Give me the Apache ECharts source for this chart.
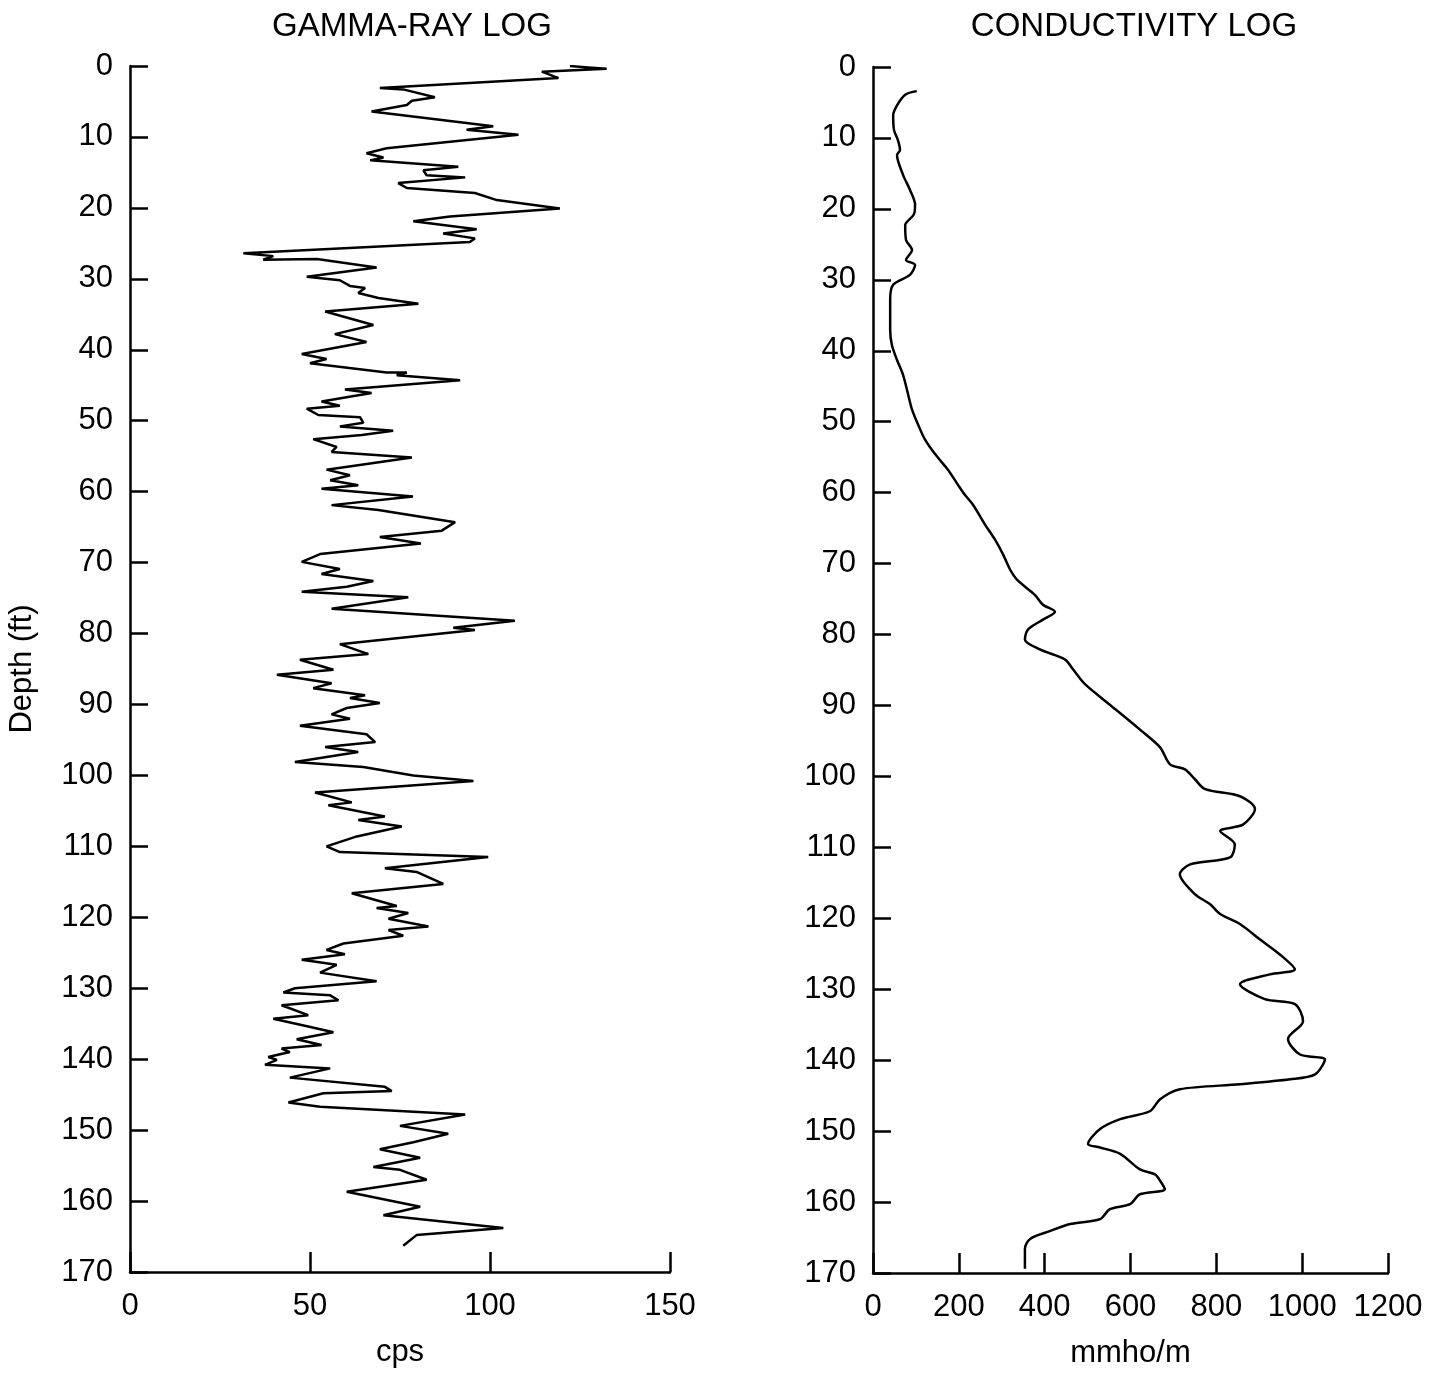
<!DOCTYPE html>
<html>
<head>
<meta charset="utf-8">
<script src="https://cdn.jsdelivr.net/npm/echarts@6/dist/echarts.min.js"></script>
<style>
  html, body { margin: 0; padding: 0; background: #fff; }
  #chart { width: 1444px; height: 1374px; }
</style>
</head>
<body>
<div id="chart"></div>
<script>
// gamma-ray log (depth in ft, value in cps)
var gammaDepth = [0, 0.2, 0.4, 0.8, 1.7, 3.1, 3.3, 4.4, 4.9, 5.5, 6.4, 8.5, 9.0, 9.7, 11.6, 12.3, 12.9, 13.3, 14.2, 14.7,
  15.4, 15.7, 16.5, 17.2, 17.9, 18.9, 20.1, 21.2, 21.9, 23.0, 23.6, 24.3, 24.8, 26.4, 26.8, 27.3, 27.2, 28.4, 29.7, 30.2,
  31.0, 31.3, 32.0, 32.7, 33.5, 34.6, 36.5, 37.8, 38.9, 40.6, 41.3, 41.9, 43.2, 43.2, 43.6, 44.3, 45.6, 46.1, 47.3, 47.9,
  48.3, 49.2, 49.5, 50.3, 50.8, 51.4, 52.0, 52.6, 53.7, 54.4, 55.2, 56.9, 57.7, 58.4, 59.1, 59.6, 60.7, 61.9, 62.6, 64.3,
  65.5, 66.4, 67.3, 68.8, 69.9, 70.9, 71.6, 72.6, 73.4, 74.1, 74.9, 76.5, 78.2, 79.2, 79.5, 81.5, 82.9, 83.7, 85.1, 85.8,
  87.0, 87.7, 88.7, 89.1, 89.8, 90.5, 91.4, 92.0, 93.0, 94.2, 95.3, 96.0, 96.7, 98.1, 98.8, 100.0, 100.8, 102.4, 103.8, 104.2,
  105.8, 106.3, 107.2, 108.6, 110.0, 110.8, 111.5, 113.1, 113.6, 115.3, 116.6, 118.4, 118.7, 119.4, 120.2, 121.3, 121.8, 122.6, 123.7, 124.6,
  125.2, 126.0, 126.7, 127.8, 129.0, 130.0, 130.6, 131.0, 131.7, 132.4, 133.8, 134.3, 135.4, 136.2, 137.2, 138.0, 138.5, 139.0, 139.7, 140.1,
  140.8, 141.3, 142.6, 143.9, 144.5, 144.8, 146.1, 146.7, 147.8, 149.4, 150.5, 151.7, 152.7, 153.9, 155.2, 155.6, 157.0, 158.7, 160.8, 162.0,
  163.8, 164.8, 166.3];
var gammaCps = [122.2, 127.3, 132.4, 114.4, 119.0, 69.4, 75.9, 84.7, 78.3, 76.9, 67.1, 100.9, 93.5, 107.9, 71.3, 65.7, 70.4, 66.7, 91.2, 81.5,
  82.4, 93.1, 74.5, 76.9, 95.8, 101.9, 119.4, 88.9, 78.7, 96.3, 87.0, 95.8, 94.4, 31.5, 39.8, 37.0, 51.9, 68.5, 49.1, 58.3,
  61.1, 65.3, 63.4, 69.0, 80.1, 54.2, 67.6, 56.9, 65.7, 47.7, 54.6, 50.0, 71.3, 76.9, 74.1, 91.7, 59.7, 67.1, 53.2, 58.3,
  49.1, 52.3, 63.9, 64.8, 58.3, 73.1, 64.4, 50.9, 57.4, 56.0, 78.3, 54.6, 61.1, 55.6, 63.4, 53.2, 78.6, 56.0, 69.0, 90.3,
  86.6, 69.4, 80.8, 52.8, 47.7, 58.3, 53.2, 67.6, 60.2, 47.7, 77.3, 56.0, 106.9, 89.8, 95.8, 58.3, 66.2, 47.2, 56.5, 40.8,
  56.0, 50.9, 65.3, 61.1, 69.4, 60.2, 56.0, 61.1, 47.2, 65.7, 68.1, 54.2, 63.4, 45.8, 64.8, 78.7, 95.4, 51.4, 61.6, 55.1,
  70.8, 63.4, 75.5, 63.0, 54.6, 58.3, 99.5, 70.8, 79.6, 87.0, 61.6, 74.1, 68.5, 77.3, 71.8, 82.9, 71.8, 75.9, 59.3, 54.6,
  59.7, 47.7, 57.4, 52.8, 68.5, 45.8, 42.6, 55.6, 57.9, 42.1, 49.5, 39.8, 49.5, 56.5, 46.3, 53.2, 42.1, 44.4, 38.4, 40.8,
  37.5, 55.6, 44.4, 70.8, 72.7, 53.7, 44.0, 52.8, 93.1, 75.0, 88.4, 78.7, 69.4, 80.6, 67.6, 75.0, 82.4, 60.2, 80.6, 70.4,
  103.7, 79.6, 75.9];

// conductivity log (depth in ft, value in mmho/m)
var condDepth = [3.4, 3.9, 5.4, 6.8, 8.9, 10.3, 11.7, 12.4, 15.2, 17.3, 19.4, 20.8, 22.3, 24.4, 25.8, 27.2, 27.9, 29.3, 30.7, 32.8,
  37.0, 39.2, 41.3, 43.4, 46.2, 48.3, 50.4, 52.5, 54.6, 56.8, 58.9, 60.3, 61.7, 64.5, 66.6, 68.7, 70.8, 72.3, 74.4, 75.8,
  76.8, 77.9, 79.3, 80.7, 82.1, 83.5, 84.9, 87.0, 89.9, 93.4, 95.9, 98.3, 99.0, 100.4, 101.8, 102.8, 104.6, 106.8, 107.7, 109.6,
  111.4, 112.4, 113.8, 116.6, 118.0, 119.4, 120.8, 123.0, 125.1, 127.2, 127.9, 129.3, 131.4, 132.1, 134.5, 137.0, 139.2, 139.9, 142.0, 142.7,
  143.4, 144.1, 145.5, 147.2, 148.3, 149.7, 151.8, 152.3, 153.2, 155.4, 156.1, 157.0, 158.2, 158.9, 160.3, 161.0, 162.4, 163.1, 164.1, 165.2,
  166.6, 169.4];
var condMmho = [102, 75, 56, 47, 49, 58, 63, 56, 70, 86, 98, 95, 75, 77, 91, 77, 98, 86, 47, 40,
  40, 44, 56, 70, 82, 91, 105, 121, 145, 175, 198, 214, 233, 261, 284, 303, 319, 336, 377, 396,
  424, 396, 361, 354, 389, 447, 466, 494, 552, 622, 669, 692, 727, 750, 774, 855, 890, 862, 809, 843,
  832, 739, 715, 750, 785, 809, 855, 902, 948, 983, 925, 855, 913, 983, 1002, 967, 995, 1053, 1030, 972,
  855, 715, 669, 645, 576, 529, 501, 529, 576, 622, 657, 669, 680, 622, 599, 552, 529, 459, 412, 366,
  354, 354];

var depthTicks = [0, 170, 10];   // min, max, step
var gammaTicks = [0, 150, 50];
var condTicks = [0, 1200, 200];

var chart = echarts.init(document.getElementById('chart'));

var font = 'Liberation Sans';
var txt = { color: '#000', fontSize: 31, fontFamily: font };

function pairs(xs, ys) {
  return xs.map(function (x, i) { return [x, ys[i]]; });
}

function plain(v) { return String(v); }

function yAxisFor(grid, withName) {
  return {
    type: 'value', gridIndex: grid, inverse: true,
    min: depthTicks[0], max: depthTicks[1], interval: depthTicks[2],
    name: withName ? 'Depth (ft)' : '', nameLocation: 'middle', nameGap: 92, nameRotate: 90,
    nameMoveOverlap: false, nameTextStyle: txt,
    axisLine: { show: true, lineStyle: { color: '#000', width: 2.5 } },
    axisTick: { show: true, inside: true, length: 18, lineStyle: { color: '#000', width: 2.5 } },
    axisLabel: Object.assign({ margin: 17, formatter: plain }, txt),
    splitLine: { show: false }
  };
}

function xAxisFor(grid, ticks, name) {
  return {
    type: 'value', gridIndex: grid,
    min: ticks[0], max: ticks[1], interval: ticks[2],
    name: name, nameLocation: 'middle', nameGap: 65,
    nameMoveOverlap: false, nameTextStyle: txt,
    axisLine: { show: true, onZero: false, lineStyle: { color: '#000', width: 2.5 } },
    axisTick: { show: true, inside: true, length: 20, lineStyle: { color: '#000', width: 2.5 } },
    axisLabel: Object.assign({ margin: 19, formatter: plain }, txt),
    splitLine: { show: false }
  };
}

var option = {
  backgroundColor: '#fff',
  animation: false,
  title: [
    { text: 'GAMMA-RAY LOG', left: 407, top: 5, textAlign: 'center',
      textStyle: { color: '#000', fontSize: 33, fontWeight: 'normal', fontFamily: font } },
    { text: 'CONDUCTIVITY LOG', left: 1129, top: 5, textAlign: 'center',
      textStyle: { color: '#000', fontSize: 33, fontWeight: 'normal', fontFamily: font } }
  ],
  grid: [
    { left: 130, top: 66, width: 540, height: 1206, outerBoundsMode: 'none', containLabel: false },
    { left: 873, top: 67, width: 515, height: 1206, outerBoundsMode: 'none', containLabel: false }
  ],
  xAxis: [xAxisFor(0, gammaTicks, 'cps'), xAxisFor(1, condTicks, 'mmho/m')],
  yAxis: [yAxisFor(0, true), yAxisFor(1, false)],
  series: [
    {
      type: 'line', xAxisIndex: 0, yAxisIndex: 0,
      data: pairs(gammaCps, gammaDepth),
      showSymbol: false, lineStyle: { color: '#000', width: 2.5 }
    },
    {
      type: 'line', xAxisIndex: 1, yAxisIndex: 1, smooth: 0.3,
      data: pairs(condMmho, condDepth),
      showSymbol: false, lineStyle: { color: '#000', width: 2.5 }
    }
  ]
};

chart.setOption(option);
</script>
</body>
</html>
